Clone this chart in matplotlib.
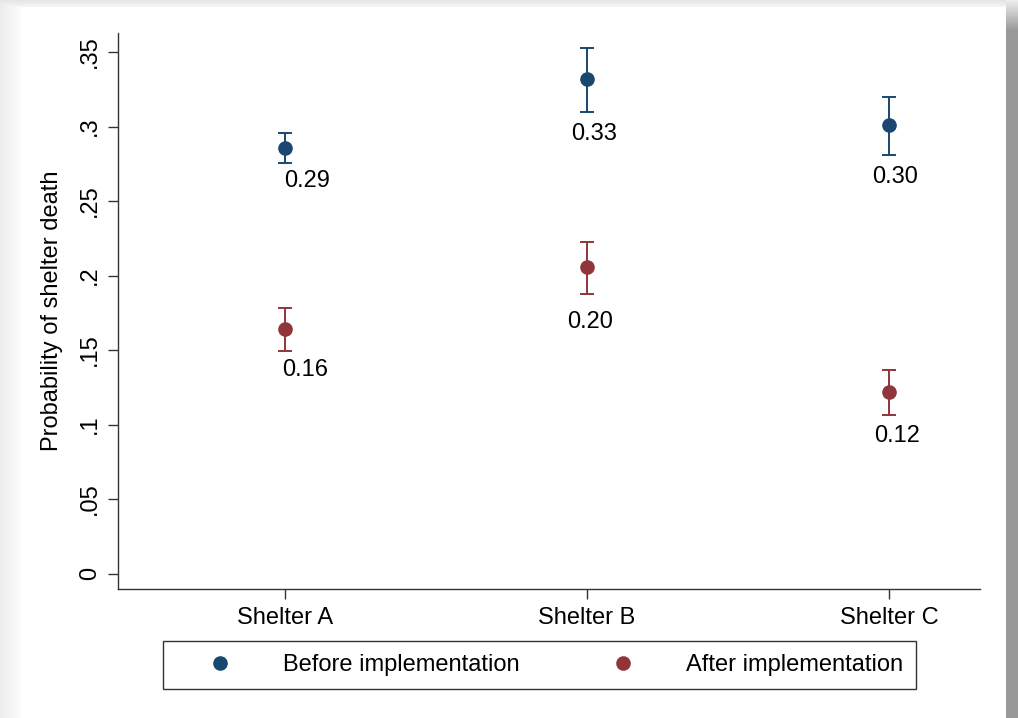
import numpy as np
from matplotlib import pyplot as plt

plt.rcParams["font.family"] = ["Liberation Sans", "DejaVu Sans"]

# Data
shelters = ["Shelter A", "Shelter B", "Shelter C"]
before_mean = [0.2854, 0.3317, 0.3010]
before_lo = [0.2753, 0.3095, 0.2809]
before_hi = [0.2954, 0.3525, 0.3196]
after_mean = [0.1641, 0.2059, 0.1220]
after_lo = [0.1495, 0.1874, 0.1064]
after_hi = [0.1780, 0.2227, 0.1366]
before_labels = ["0.29", "0.33", "0.30"]
after_labels = ["0.16", "0.20", "0.12"]
yticks = [0, 0.05, 0.1, 0.15, 0.2, 0.25, 0.3, 0.35]
ytick_labels = ["0", ".05", ".1", ".15", ".2", ".25", ".3", ".35"]

# label offsets (pixels) relative to (x, lower CI)
before_lab_dx = [22, 7, 6]
before_lab_dy = [18, 22, 22]
after_lab_dx = [20, 3, 8]
after_lab_dy = [19, 28, 21]

navy = "#1a476f"
maroon = "#90353b"
W, H = 1018, 718
fig = plt.figure(figsize=(W / 100, H / 100), dpi=100)

# Background card with drop shadow
img = np.ones((H, W))
xx = np.arange(W)[None, :] * np.ones((H, 1))
yy = np.arange(H)[:, None] * np.ones((1, W))
left = xx < 21
img[left] = 0.93 + 0.06 * (xx[left] / 21)
top = yy < 7
img[top] = np.minimum(img[top], 0.90 + 0.07 * (yy[top] / 7))
right = xx >= 1006
fade = np.clip(yy / 30, 0, 1)
img[right] = 0.93 - 0.33 * fade[right]
bg = fig.add_axes([0, 0, 1, 1], zorder=-1)
bg.imshow(np.dstack([img] * 3), aspect="auto", interpolation="bilinear")
bg.axis("off")

ax = fig.add_axes([118 / W, 1 - 589 / H, (980 - 118) / W, (589 - 33) / H])
ax.patch.set_alpha(0)
x = np.arange(len(shelters))

ms = 9.5
for mean, lo, hi, col in [(before_mean, before_lo, before_hi, navy),
                          (after_mean, after_lo, after_hi, maroon)]:
    mean = np.array(mean)
    err = [mean - np.array(lo), np.array(hi) - mean]
    ax.errorbar(x, mean, yerr=err, fmt="none", ecolor=col, elinewidth=1.4,
                capsize=5, capthick=1.4, zorder=2)
    ax.plot(x, mean, "o", color=col, ms=ms, zorder=3)

for lo_vals, labs, dxs, dys in [(before_lo, before_labels, before_lab_dx, before_lab_dy),
                                (after_lo, after_labels, after_lab_dx, after_lab_dy)]:
    for i, (lo, lab) in enumerate(zip(lo_vals, labs)):
        ax.annotate(lab, (x[i], lo), xytext=(dxs[i] * 0.72, -dys[i] * 0.72),
                    textcoords="offset points", ha="center", va="center",
                    fontsize=17, color="black")

ax.set_xlim(-0.553, 2.301)
ax.set_ylim(-0.0104, 0.3628)
ax.set_xticks(x)
ax.set_xticklabels(shelters, fontsize=17)
ax.set_yticks(yticks)
ax.set_yticklabels(ytick_labels, fontsize=17, rotation=90, va="center")
ax.tick_params(axis="both", length=7, width=1, color="#333333", pad=5)
ax.tick_params(axis="x", pad=6)
for s in ["top", "right"]:
    ax.spines[s].set_visible(False)
for s in ["left", "bottom"]:
    ax.spines[s].set_color("#333333")
    ax.spines[s].set_linewidth(1)
ax.set_ylabel("Probability of shelter death", fontsize=17, labelpad=12)

h1 = ax.plot([], [], "o", color=navy, ms=ms)[0]
h2 = ax.plot([], [], "o", color=maroon, ms=ms)[0]
leg = fig.legend([h1, h2], ["Before implementation", "After implementation"],
                 ncol=2, loc="center left", bbox_to_anchor=(163 / W, 1 - 665 / H),
                 fontsize=17, frameon=True, fancybox=False, edgecolor="black",
                 borderpad=0.55, handlelength=3.73, handletextpad=0.8,
                 columnspacing=2.5, borderaxespad=0)
leg.get_frame().set_linewidth(1)

plt.savefig("out.png", dpi=100)
